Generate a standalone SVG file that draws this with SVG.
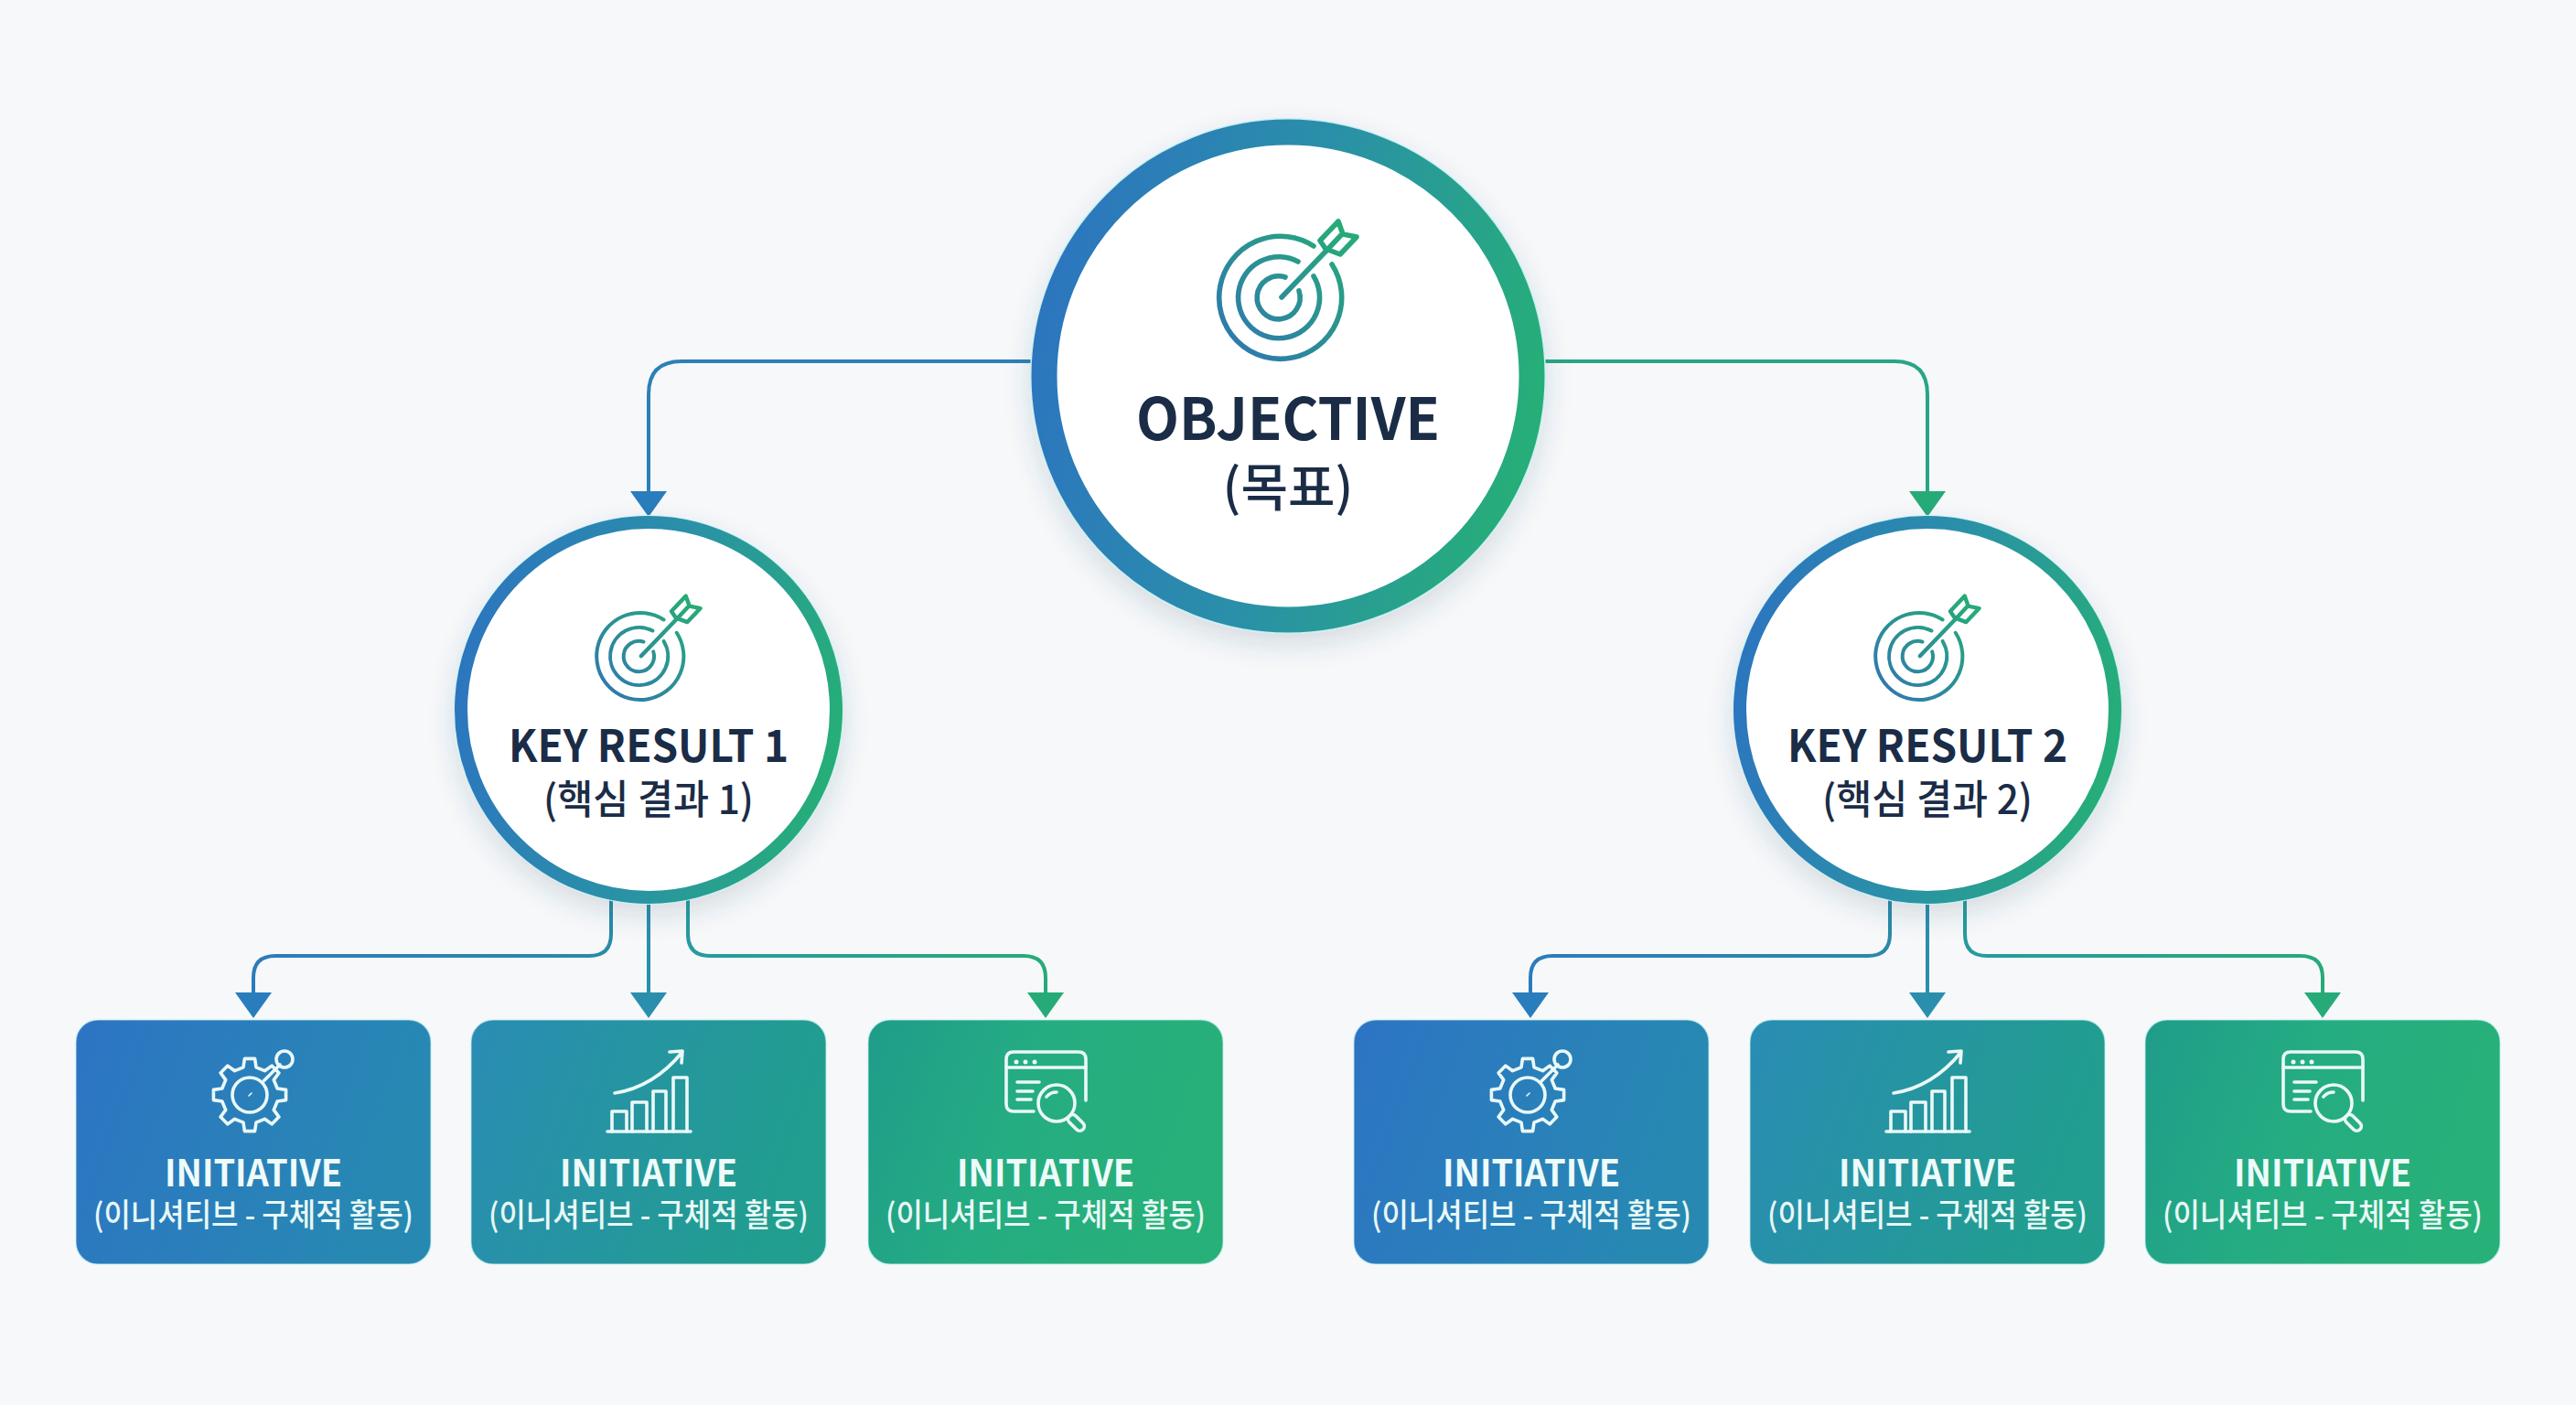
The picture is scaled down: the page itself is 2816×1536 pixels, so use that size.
<svg xmlns="http://www.w3.org/2000/svg" width="2816" height="1536" viewBox="0 0 2816 1536">
<style>
text{font-family:"Noto Sans CJK KR","Noto Sans",sans-serif;text-anchor:middle}
.ink{fill:#1b2c47}
.t1{font-size:63px;font-weight:700}
.s1{font-size:56px;font-weight:500}
.t2{font-size:48px;font-weight:700}
.s2{font-size:44px;font-weight:500}
.t3{font-size:40px;font-weight:700;fill:#eefbfa}
.s3{font-size:35px;font-weight:500;fill:#e8f8f6}
.lnk{fill:none;stroke-width:4;stroke-linecap:butt}
.ic{fill:none;stroke:#eaf8f8;stroke-width:3.6;stroke-linecap:round;stroke-linejoin:round}
.tg{fill:none;stroke:url(#gTarget);stroke-width:5.6;stroke-linecap:round;stroke-linejoin:round}
.small .tg{stroke-width:6.600}
.ring{fill:#fff;filter:url(#sh);stroke:#c8f0f4;stroke-width:2}
.box{stroke:#bfeef0;stroke-opacity:.55;stroke-width:1.5}
</style>
<defs>
<linearGradient id="gRing" x1="0" y1="0.4" x2="1" y2="0.6"><stop offset="0" stop-color="#2c76be"/><stop offset="0.5" stop-color="#2a90a8"/><stop offset="1" stop-color="#26ae78"/></linearGradient>
<linearGradient id="gTarget" gradientUnits="userSpaceOnUse" x1="-55" y1="55" x2="70" y2="-70"><stop offset="0" stop-color="#2f78b0"/><stop offset="1" stop-color="#27aa78"/></linearGradient>
<linearGradient id="gB1" x1="0" y1="0" x2="1" y2="0.25"><stop offset="0" stop-color="#2d74c4"/><stop offset="1" stop-color="#2789b2"/></linearGradient>
<linearGradient id="gB2" x1="0" y1="0" x2="1" y2="0.25"><stop offset="0" stop-color="#2a8cb4"/><stop offset="1" stop-color="#219e8e"/></linearGradient>
<linearGradient id="gB3" x1="0" y1="0" x2="1" y2="0.25"><stop offset="0" stop-color="#1f9c8a"/><stop offset="0.5" stop-color="#25ad82"/><stop offset="1" stop-color="#27b078"/></linearGradient>
<linearGradient id="gL" gradientUnits="userSpaceOnUse" x1="668" y1="0" x2="277" y2="0"><stop offset="0" stop-color="#2a8aa8"/><stop offset="1" stop-color="#2a7cbc"/></linearGradient>
<linearGradient id="gR" gradientUnits="userSpaceOnUse" x1="752" y1="0" x2="1143" y2="0"><stop offset="0" stop-color="#269aa0"/><stop offset="1" stop-color="#26ab78"/></linearGradient>
<filter id="sh" x="-20%" y="-20%" width="140%" height="145%"><feDropShadow dx="0" dy="12" stdDeviation="14" flood-color="#33475f" flood-opacity=".16"/></filter>
<marker id="aB" markerUnits="userSpaceOnUse" markerWidth="28" markerHeight="40" refX="0" refY="20" orient="auto"><path d="M0 0L28 20L0 40Z" fill="#2a7dbc"/></marker>
<marker id="aT" markerUnits="userSpaceOnUse" markerWidth="28" markerHeight="40" refX="0" refY="20" orient="auto"><path d="M0 0L28 20L0 40Z" fill="#2a8ead"/></marker>
<marker id="aG" markerUnits="userSpaceOnUse" markerWidth="28" markerHeight="40" refX="0" refY="20" orient="auto"><path d="M0 0L28 20L0 40Z" fill="#26ab78"/></marker>
<g id="rings">
<path class="tg" d="M36 -57 A67 67 0 1 0 56 -37"/>
<path class="tg" d="M19 -40 A44.500 44.500 0 1 0 36 -24"/>
<path class="tg" d="M5 -23 A23.500 23.500 0 1 0 20 -8"/>
</g>
<g id="dart">
<path class="tg" d="M1 -1 L50 -52"/>
<path class="tg" d="M43 -63 L63 -84 L68 -70 L83 -67 L65 -48 L49 -54Z M50 -52 L66 -69"/>
</g>
<g id="gear" class="ic">
<path d="M30.200 -7L39.600 -5.600L39.600 5.600L30.200 7L26.300 16.400L31.900 24.100L24.100 31.900L16.400 26.300L7 30.200L5.600 39.600L-5.600 39.600L-7 30.200L-16.400 26.300L-24.100 31.900L-31.900 24.100L-26.300 16.400L-30.200 7L-39.600 5.600L-39.600 -5.600L-30.200 -7L-26.300 -16.400L-31.900 -24.100L-24.100 -31.900L-16.400 -26.300L-7 -30.200L-5.600 -39.600L5.600 -39.600L7 -30.200L16.400 -26.300L24.100 -31.900L31.900 -24.100L26.300 -16.400Z"/>
<circle r="19"/>
<path d="M15 -15 L33 -33"/>
<circle cx="38" cy="-39" r="9"/>
<path d="M-1 1 L2 -2" stroke-width="1.6"/>
</g>
<g id="chart" class="ic">
<path d="M664 1237H755"/>
<path d="M669 1237V1215H685V1237M691 1237V1205H707V1237M714 1237V1193H728V1237M736 1237V1178H751V1237"/>
<path d="M672 1195C705 1190 728 1172 746 1150M732 1150L746 1149L745 1162"/>
</g>
<g id="scan" class="ic">
<path d="M1130 1215H1108Q1100 1215 1100 1207V1158Q1100 1150 1108 1150H1179Q1187 1150 1187 1158V1203"/>
<path d="M1100 1167H1187M1112 1183H1136M1112 1193H1129M1112 1202H1127"/>
<circle cx="1155" cy="1206" r="20"/>
<path d="M1144 1199Q1148 1194 1155 1194"/>
<rect x="0" y="-5" width="21" height="10" rx="5" transform="translate(1169 1220) rotate(45)"/>
<g fill="#eaf8f8" stroke="none"><circle cx="1111" cy="1161" r="2.500"/><circle cx="1121" cy="1161" r="2.500"/><circle cx="1131" cy="1161" r="2.500"/></g>
</g>
</defs>
<rect width="2816" height="1536" fill="#f6f8fa"/>
<g id="connectors">
<path class="lnk" stroke="#2d80b6" marker-end="url(#aB)" d="M1140 395H745Q709 395 709 431V537"/>
<path class="lnk" stroke="#27a684" marker-end="url(#aG)" d="M1680 395H2071Q2107 395 2107 431V537"/>
<g id="links-kr1">
<path class="lnk" stroke="url(#gL)" marker-end="url(#aB)" d="M668 975V1021Q668 1045 644 1045H301Q277 1045 277 1069V1085"/>
<path class="lnk" stroke="#2a8ead" marker-end="url(#aT)" d="M709 975V1085"/>
<path class="lnk" stroke="url(#gR)" marker-end="url(#aG)" d="M752 975V1021Q752 1045 776 1045H1119Q1143 1045 1143 1069V1085"/>
</g>
<g id="links-kr2" transform="translate(1398 0)">
<path class="lnk" stroke="url(#gL)" marker-end="url(#aB)" d="M668 975V1021Q668 1045 644 1045H299Q275 1045 275 1069V1085"/>
<path class="lnk" stroke="#2a8ead" marker-end="url(#aT)" d="M709 975V1085"/>
<path class="lnk" stroke="url(#gR)" marker-end="url(#aG)" d="M750 975V1021Q750 1045 774 1045H1117Q1141 1045 1141 1069V1085"/>
</g>
</g>
<g id="objective">
<circle class="ring" cx="1408" cy="411" r="281"/>
<circle cx="1408" cy="411" r="266.500" fill="#fff" stroke="url(#gRing)" stroke-width="28"/>
<use href="#rings" transform="translate(1400 326)"/>
<use href="#dart" transform="translate(1400 326)"/>
<text class="t1 ink" x="1408" y="481" textLength="332" lengthAdjust="spacingAndGlyphs">OBJECTIVE</text>
<text class="s1 ink" x="1408" y="553">(목표)</text>
</g>
<g id="key-result-1" class="small">
<circle class="ring" cx="709" cy="776" r="212"/>
<circle cx="709" cy="776" r="205" fill="#fff" stroke="url(#gRing)" stroke-width="14"/>
<use href="#rings" transform="translate(700 718) scale(.71)"/>
<use href="#dart" transform="translate(700 718) scale(.79)"/>
<text class="t2 ink" x="709" y="833" textLength="306" lengthAdjust="spacingAndGlyphs">KEY RESULT 1</text>
<text class="s2 ink" x="709" y="890" textLength="230" lengthAdjust="spacingAndGlyphs">(핵심 결과 1)</text>
</g>
<g id="key-result-2" class="small">
<circle class="ring" cx="2107" cy="776" r="212"/>
<circle cx="2107" cy="776" r="205" fill="#fff" stroke="url(#gRing)" stroke-width="14"/>
<use href="#rings" transform="translate(2098 718) scale(.71)"/>
<use href="#dart" transform="translate(2098 718) scale(.79)"/>
<text class="t2 ink" x="2107" y="833" textLength="306" lengthAdjust="spacingAndGlyphs">KEY RESULT 2</text>
<text class="s2 ink" x="2107" y="890" textLength="230" lengthAdjust="spacingAndGlyphs">(핵심 결과 2)</text>
</g>
<g id="initiative-1-1">
<rect class="box" x="83" y="1115" width="388" height="267" rx="24" fill="url(#gB1)"/>
<use href="#gear" transform="translate(273 1197)"/>
<text class="t3" x="277" y="1297" textLength="194" lengthAdjust="spacingAndGlyphs">INITIATIVE</text>
<text class="s3" x="277" y="1341" textLength="350" lengthAdjust="spacingAndGlyphs">(이니셔티브 - 구체적 활동)</text>
</g>
<g id="initiative-1-2">
<rect class="box" x="515" y="1115" width="388" height="267" rx="24" fill="url(#gB2)"/>
<use href="#chart"/>
<text class="t3" x="709" y="1297" textLength="194" lengthAdjust="spacingAndGlyphs">INITIATIVE</text>
<text class="s3" x="709" y="1341" textLength="350" lengthAdjust="spacingAndGlyphs">(이니셔티브 - 구체적 활동)</text>
</g>
<g id="initiative-1-3">
<rect class="box" x="949" y="1115" width="388" height="267" rx="24" fill="url(#gB3)"/>
<use href="#scan"/>
<text class="t3" x="1143" y="1297" textLength="194" lengthAdjust="spacingAndGlyphs">INITIATIVE</text>
<text class="s3" x="1143" y="1341" textLength="350" lengthAdjust="spacingAndGlyphs">(이니셔티브 - 구체적 활동)</text>
</g>
<g id="initiative-2-1">
<rect class="box" x="1480" y="1115" width="388" height="267" rx="24" fill="url(#gB1)"/>
<use href="#gear" transform="translate(1670 1197)"/>
<text class="t3" x="1674" y="1297" textLength="194" lengthAdjust="spacingAndGlyphs">INITIATIVE</text>
<text class="s3" x="1674" y="1341" textLength="350" lengthAdjust="spacingAndGlyphs">(이니셔티브 - 구체적 활동)</text>
</g>
<g id="initiative-2-2">
<rect class="box" x="1913" y="1115" width="388" height="267" rx="24" fill="url(#gB2)"/>
<use href="#chart" transform="translate(1398 0)"/>
<text class="t3" x="2107" y="1297" textLength="194" lengthAdjust="spacingAndGlyphs">INITIATIVE</text>
<text class="s3" x="2107" y="1341" textLength="350" lengthAdjust="spacingAndGlyphs">(이니셔티브 - 구체적 활동)</text>
</g>
<g id="initiative-2-3">
<rect class="box" x="2345" y="1115" width="388" height="267" rx="24" fill="url(#gB3)"/>
<use href="#scan" transform="translate(1396 0)"/>
<text class="t3" x="2539" y="1297" textLength="194" lengthAdjust="spacingAndGlyphs">INITIATIVE</text>
<text class="s3" x="2539" y="1341" textLength="350" lengthAdjust="spacingAndGlyphs">(이니셔티브 - 구체적 활동)</text>
</g>
</svg>
